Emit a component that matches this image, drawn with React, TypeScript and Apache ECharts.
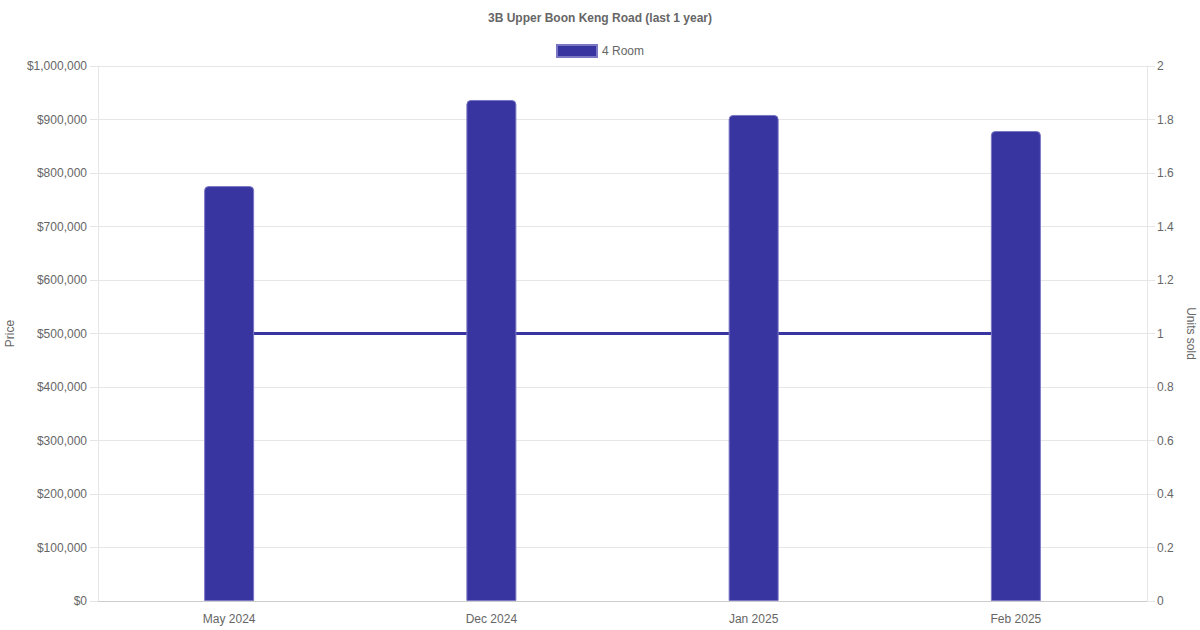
import React, { useEffect, useRef } from "react";
import * as echarts from "echarts";

const categories = ["May 2024", "Dec 2024", "Jan 2025", "Feb 2025"];
const prices = [775500, 936500, 908500, 878500];
const unitsSold = [1, 1, 1, 1];

const FONT = "'Liberation Sans', Arial, Helvetica, sans-serif";
const BAR = "#3834a0";
const GRID = "#e6e6e6";
const TEXT = "#666666";

export default function App() {
  const ref = useRef<HTMLDivElement>(null);
  useEffect(() => {
    const chart = echarts.init(ref.current!, null, { renderer: "svg" });
    chart.setOption({
      animation: false,
      textStyle: { fontFamily: FONT },
      title: {
        text: "3B Upper Boon Keng Road (last 1 year)",
        left: "center",
        top: 7,
        textStyle: { fontFamily: FONT, fontSize: 12, fontWeight: "bold", color: TEXT },
      },
      legend: {
        top: 39,
        left: "center",
        data: ["4 Room"],
        itemWidth: 40,
        itemHeight: 12,
        itemGap: 10,
        icon: "rect",
        textStyle: { fontFamily: FONT, fontSize: 12, color: TEXT },
      },
      grid: {
        left: 98,
        right: 53,
        top: 66,
        bottom: 29,
        containLabel: false,
        outerBoundsMode: "none",
      },
      xAxis: {
        type: "category",
        data: categories,
        axisLine: { show: true, lineStyle: { color: "#cccccc" } },
        axisTick: { show: false },
        axisLabel: { fontFamily: FONT, fontSize: 12, color: TEXT, margin: 12 },
        splitLine: { show: false },
      },
      yAxis: [
        {
          type: "value",
          min: 0,
          max: 1000000,
          interval: 100000,
          name: "Price",
          nameLocation: "middle",
          nameRotate: 90,
          nameGap: 80,
          nameTextStyle: { fontFamily: FONT, fontSize: 12, color: TEXT },
          axisLine: { show: true, lineStyle: { color: GRID } },
          axisTick: { show: true, length: 8, lineStyle: { color: GRID } },
          axisLabel: {
            fontFamily: FONT,
            fontSize: 12,
            color: TEXT,
            margin: 11,
            formatter: (v: number) => "$" + v.toLocaleString("en-US"),
          },
          splitLine: { show: true, lineStyle: { color: GRID } },
        },
        {
          type: "value",
          min: 0,
          max: 2,
          interval: 0.2,
          name: "Units sold",
          nameLocation: "middle",
          nameRotate: -90,
          nameGap: 36,
          nameTextStyle: { fontFamily: FONT, fontSize: 12, color: TEXT },
          axisLine: { show: true, lineStyle: { color: GRID } },
          axisTick: { show: true, length: 8, lineStyle: { color: GRID } },
          axisLabel: {
            fontFamily: FONT,
            fontSize: 12,
            color: TEXT,
            margin: 10,
            formatter: (v: number) => String(Math.round(v * 10) / 10),
          },
          splitLine: { show: false },
        },
      ],
      series: [
        {
          name: "Units sold",
          type: "line",
          yAxisIndex: 1,
          data: unitsSold,
          showSymbol: false,
          symbol: "none",
          lineStyle: { color: BAR, width: 3 },
          itemStyle: { color: BAR },
          z: 1,
        },
        {
          name: "4 Room",
          type: "bar",
          yAxisIndex: 0,
          data: prices,
          barWidth: 50,
          itemStyle: {
            color: BAR,
            borderColor: "#7a77c4",
            borderWidth: 1,
            borderRadius: [4, 4, 0, 0],
          },
          z: 3,
        },
      ],
    });
    return () => chart.dispose();
  }, []);
  return (
    <div
      ref={ref}
      style={{ position: "fixed", left: 0, top: 0, width: 1200, height: 630, background: "#fff" }}
    />
  );
}
